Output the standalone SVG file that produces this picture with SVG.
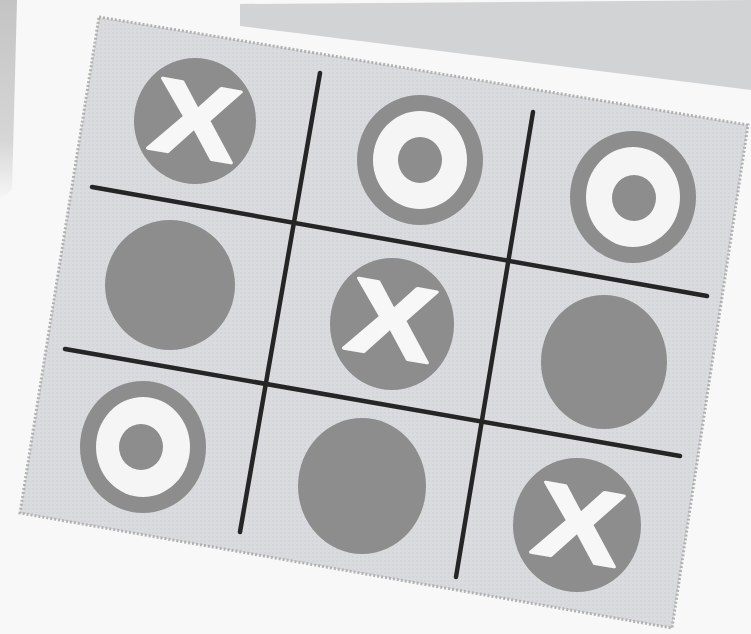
<svg xmlns="http://www.w3.org/2000/svg" width="751" height="634" viewBox="0 0 751 634">
<defs>
<style>
.board{fill:#dadbde;stroke:#b2b2b2;stroke-width:3;stroke-dasharray:2 2}
.piece{fill:#8d8d8d}
.hole{fill:#f5f5f5}
.grid line{stroke:#252525;stroke-width:4.5;stroke-linecap:round}
.x{font-family:"Liberation Sans",Arial,sans-serif;font-weight:bold;font-size:104px;fill:#f7f7f7;stroke:#f7f7f7;stroke-width:3;stroke-linejoin:round;text-anchor:middle}
</style>
<pattern id="dots" width="4" height="4" patternUnits="userSpaceOnUse">
<circle cx="1" cy="1" r="0.8" fill="#000" fill-opacity="0.06"/>
</pattern>
<linearGradient id="fadeL" x1="0" y1="0" x2="0" y2="1">
<stop offset="0" stop-color="#c4c4c4"/>
<stop offset="0.7" stop-color="#d6d6d6"/>
<stop offset="1" stop-color="#f7f7f7"/>
</linearGradient>
</defs>
<rect width="751" height="634" fill="#f8f8f8"/>
<polygon points="240,4 751,0 751,90 240,26" fill="#d2d3d4"/>
<polygon points="0,0 17,0 12,190 0,200" fill="url(#fadeL)"/>
<polygon class="board" points="99,17 748,125 672,628 20,513"/>
<polygon points="99,17 748,125 672,628 20,513" fill="url(#dots)"/>
<g class="grid">
<line x1="92" y1="187" x2="707" y2="296"/>
<line x1="65" y1="349" x2="680" y2="456"/>
<line x1="320" y1="73" x2="240" y2="532"/>
<line x1="533" y1="112" x2="456" y2="577"/>
</g>
<g id="cell-1-1"><ellipse class="piece" cx="195" cy="121" rx="61" ry="63"/><text class="x" x="0" y="37" transform="translate(196 119) rotate(10) scale(1.25 1)">X</text></g>
<g id="cell-1-2"><ellipse class="piece" cx="420" cy="160" rx="63" ry="65"/><ellipse class="hole" cx="420" cy="160" rx="47" ry="49"/><ellipse class="piece" cx="420" cy="160" rx="22" ry="23"/></g>
<g id="cell-1-3"><ellipse class="piece" cx="633" cy="197" rx="63" ry="66"/><ellipse class="hole" cx="633" cy="197" rx="47" ry="50"/><ellipse class="piece" cx="634" cy="198" rx="22" ry="23"/></g>
<g id="cell-2-1"><ellipse class="piece" cx="170" cy="285" rx="65" ry="65"/></g>
<g id="cell-2-2"><ellipse class="piece" cx="392" cy="324" rx="62" ry="66"/><text class="x" x="0" y="37" transform="translate(392 319) rotate(10) scale(1.25 1)">X</text></g>
<g id="cell-2-3"><ellipse class="piece" cx="604" cy="362" rx="63" ry="67"/></g>
<g id="cell-3-1"><ellipse class="piece" cx="143" cy="447" rx="63" ry="66"/><ellipse class="hole" cx="143" cy="447" rx="47" ry="50"/><ellipse class="piece" cx="141" cy="447" rx="22" ry="23"/></g>
<g id="cell-3-2"><ellipse class="piece" cx="362" cy="486" rx="64" ry="68"/></g>
<g id="cell-3-3"><ellipse class="piece" cx="577" cy="525" rx="64" ry="67"/><text class="x" x="0" y="37" transform="translate(579 523) rotate(10) scale(1.25 1)">X</text></g>
</svg>
